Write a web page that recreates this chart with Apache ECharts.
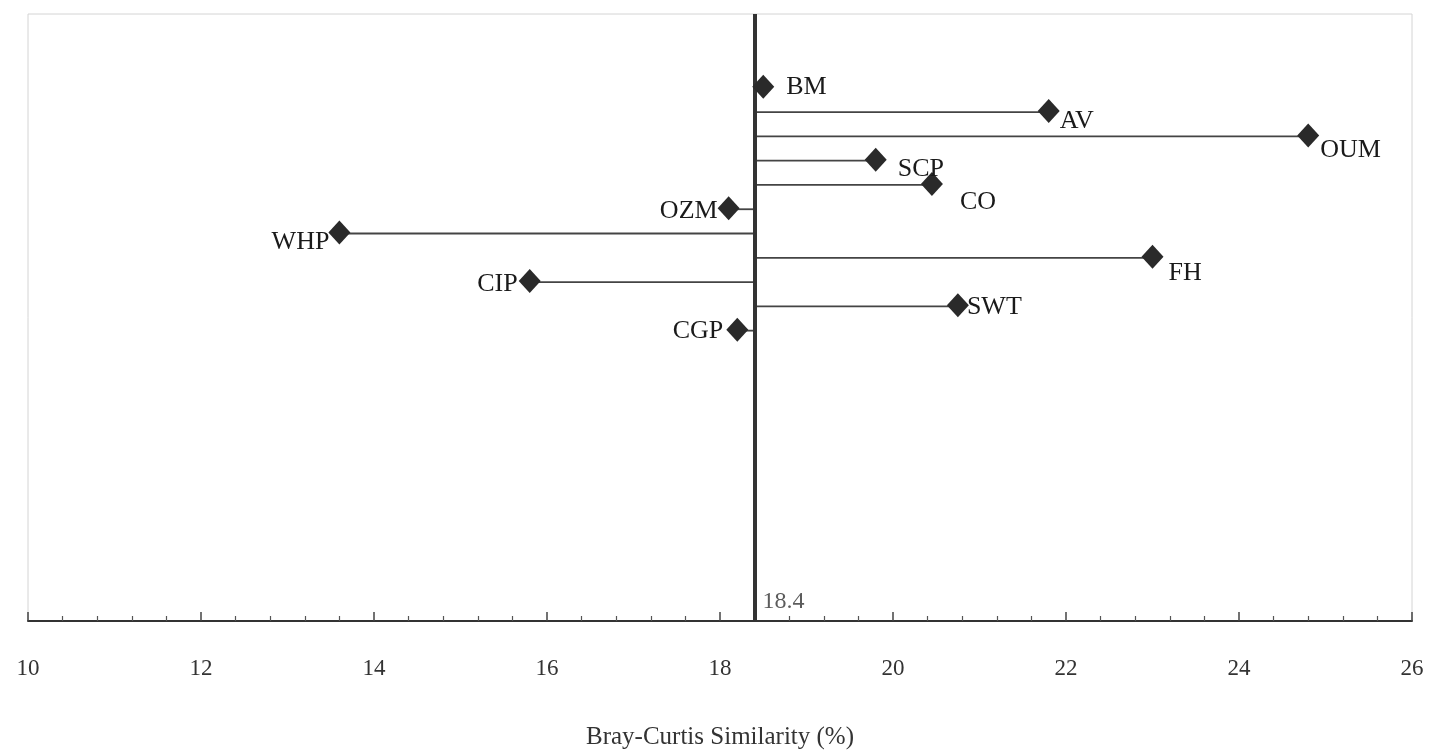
<!DOCTYPE html>
<html>
<head>
<meta charset="utf-8">
<script src="https://cdn.jsdelivr.net/npm/echarts@6/dist/echarts.min.js"></script>
<style>
  html, body { margin: 0; padding: 0; background: #fff; }
  #chart { width: 1430px; height: 755px; }
</style>
</head>
<body>
<div id="chart"></div>
<script>
// sites, top to bottom, and their Bray-Curtis similarity (%)
const sites = ['BM', 'AV', 'OUM', 'SCP', 'CO', 'OZM', 'WHP', 'FH', 'CIP', 'SWT', 'CGP'];
const similarity = [18.5, 21.8, 24.8, 19.8, 20.45, 18.1, 13.6, 23.0, 15.8, 20.75, 18.2];
const meanValue = 18.4;
const xTicks = [10, 12, 14, 16, 18, 20, 22, 24, 26];

// where each site name sits next to its diamond
const labelPlace = {
    BM:  { position: 'right', distance: 12, offset: [0, 0] },
    AV:  { position: 'right', distance: 0, offset: [0, 10] },
    OUM: { position: 'right', distance: 1, offset: [0, 15] },
    SCP: { position: 'right', distance: 11, offset: [0, 9] },
    CO:  { position: 'right', distance: 17, offset: [0, 18] },
    OZM: { position: 'left', distance: 0, offset: [0, 3] },
    WHP: { position: 'left', distance: -1, offset: [0, 10] },
    FH:  { position: 'right', distance: 5, offset: [0, 16] },
    CIP: { position: 'left', distance: 1, offset: [0, 3] },
    SWT: { position: 'right', distance: -2, offset: [0, 2] },
    CGP: { position: 'left', distance: 3, offset: [0, 2] }
};

const serif = '"Liberation Serif", "DejaVu Serif", serif';
const points = similarity.map((v, i) => ({
    value: [v, i],
    name: sites[i],
    label: Object.assign({ show: true, formatter: sites[i] }, labelPlace[sites[i]])
}));

let chart = echarts.init(document.getElementById('chart'));

const option = {
    animation: false,
    grid: {
        left: 28,
        right: 18,
        top: 14,
        bottom: 125,
        show: true,
        borderColor: '#d4d4d4',
        borderWidth: 1
    },
    xAxis: {
        type: 'value',
        min: 10,
        max: 26,
        interval: 2,
        name: 'Bray-Curtis Similarity (%)',
        nameLocation: 'middle',
        nameGap: 104,
        nameTextStyle: { fontFamily: serif, fontSize: 25, color: '#333' },
        axisLine: { show: true, onZero: false, lineStyle: { color: '#333', width: 2 } },
        axisTick: { show: true, inside: true, length: 9, lineStyle: { color: '#444', width: 1.5 } },
        minorTick: { show: true, splitNumber: 5, length: 5, lineStyle: { color: '#555', width: 1.2 } },
        axisLabel: {
            margin: 36,
            fontFamily: serif,
            fontSize: 23,
            color: '#333',
            formatter: v => xTicks.includes(v) ? String(v) : ''
        },
        splitLine: { show: false }
    },
    yAxis: {
        type: 'value',
        inverse: true,
        min: -3,
        max: 22,
        show: false
    },
    series: [
        {
            // horizontal stems from the mean to each site
            type: 'custom',
            renderItem: (params, api) => {
                const a = api.coord([meanValue, api.value(1)]);
                const b = api.coord([api.value(0), api.value(1)]);
                return {
                    type: 'line',
                    shape: { x1: a[0], y1: a[1] + 1, x2: b[0], y2: b[1] + 1 },
                    style: { stroke: '#444', lineWidth: 1.8 }
                };
            },
            data: similarity.map((v, i) => [v, i]),
            z: 2,
            markLine: {
                silent: true,
                symbol: 'none',
                label: { show: false },
                lineStyle: { color: '#333', width: 4, type: 'solid' },
                data: [{ xAxis: meanValue }]
            }
        },
        {
            type: 'scatter',
            symbol: 'diamond',
            symbolSize: [22, 24],
            itemStyle: { color: '#2a2a2a', opacity: 1 },
            label: { fontFamily: serif, fontSize: 26, color: '#1a1a1a' },
            data: points,
            z: 5
        },
        {
            // value of the mean line, written just above the axis
            type: 'scatter',
            symbolSize: 0,
            data: [{ value: [meanValue, 21.2], label: { show: true, formatter: String(meanValue) } }],
            label: { position: 'right', distance: 8, fontFamily: serif, fontSize: 24, color: '#333' }
        }
    ]
};

option && chart.setOption(option);
window.addEventListener('resize', chart.resize);
</script>
</body>
</html>
